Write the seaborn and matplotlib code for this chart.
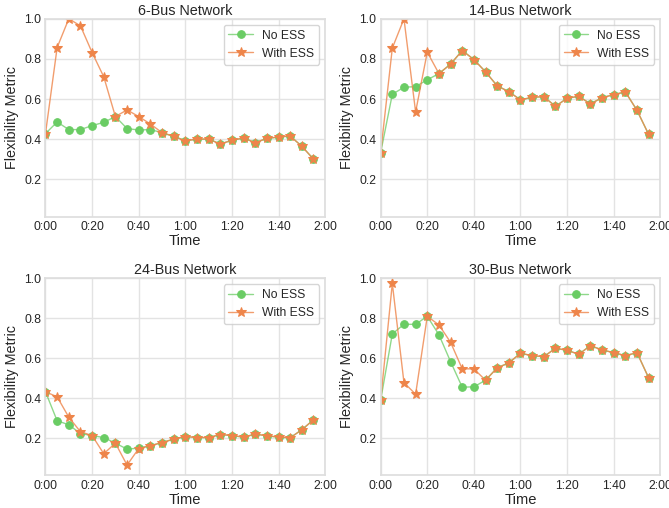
import numpy as np
import pandas as pd
import seaborn as sns
import matplotlib.pyplot as plt

minutes = list(range(0, 120, 5))
tick_minutes = [0, 20, 40, 60, 80, 100, 120]
tick_labels = ["0:00", "0:20", "0:40", "1:00", "1:20", "1:40", "2:00"]

titles = ["6-Bus Network", "14-Bus Network", "24-Bus Network", "30-Bus Network"]

bus6_no = [0.428, 0.486, 0.448, 0.448, 0.468, 0.484, 0.513, 0.453, 0.446, 0.448, 0.433, 0.414,
           0.393, 0.400, 0.401, 0.376, 0.395, 0.406, 0.383, 0.404, 0.411, 0.416, 0.365, 0.301]
bus6_ess = [0.428, 0.857, 1.000, 0.965, 0.832, 0.711, 0.513, 0.546, 0.513, 0.476, 0.433, 0.414,
            0.393, 0.400, 0.401, 0.376, 0.395, 0.406, 0.383, 0.404, 0.411, 0.416, 0.365, 0.301]

bus14_no = [0.333, 0.624, 0.659, 0.662, 0.696, 0.727, 0.774, 0.842, 0.797, 0.736, 0.666, 0.637,
            0.596, 0.609, 0.612, 0.564, 0.604, 0.614, 0.576, 0.607, 0.622, 0.636, 0.544, 0.424]
bus14_ess = [0.333, 0.854, 1.000, 0.536, 0.834, 0.727, 0.774, 0.842, 0.797, 0.736, 0.666, 0.637,
             0.596, 0.609, 0.612, 0.564, 0.604, 0.614, 0.576, 0.607, 0.622, 0.636, 0.544, 0.424]

bus24_no = [0.432, 0.287, 0.267, 0.223, 0.213, 0.203, 0.175, 0.145, 0.150, 0.162, 0.178, 0.195,
            0.208, 0.203, 0.203, 0.218, 0.213, 0.205, 0.220, 0.212, 0.205, 0.202, 0.242, 0.292]
bus24_ess = [0.432, 0.407, 0.305, 0.232, 0.213, 0.122, 0.175, 0.065, 0.148, 0.162, 0.178, 0.195,
             0.208, 0.203, 0.203, 0.218, 0.213, 0.205, 0.220, 0.212, 0.205, 0.202, 0.242, 0.292]

bus30_no = [0.390, 0.722, 0.770, 0.770, 0.810, 0.718, 0.583, 0.455, 0.457, 0.490, 0.552, 0.577,
            0.625, 0.613, 0.608, 0.650, 0.640, 0.620, 0.663, 0.642, 0.628, 0.613, 0.628, 0.502]
bus30_ess = [0.390, 0.975, 0.478, 0.420, 0.810, 0.767, 0.680, 0.547, 0.547, 0.490, 0.552, 0.577,
             0.625, 0.613, 0.608, 0.650, 0.640, 0.620, 0.663, 0.642, 0.628, 0.613, 0.628, 0.502]

no_ess = [bus6_no, bus14_no, bus24_no, bus30_no]
with_ess = [bus6_ess, bus14_ess, bus24_ess, bus30_ess]

sns.set_theme(style="whitegrid", rc={"grid.color": "#e3e3e3", "axes.edgecolor": "#dedede"})
plt.rcParams["font.family"] = ["Liberation Sans", "DejaVu Sans"]
pal = sns.color_palette("muted")
green = pal[2]
orange = pal[1]

fig, axes = plt.subplots(2, 2, figsize=(6.69, 5.08), dpi=100)
# axes placed where the reference has them (figure fractions)
pos = [(0.068, 0.573, 0.418, 0.390), (0.569, 0.573, 0.418, 0.390),
       (0.068, 0.064, 0.418, 0.388), (0.569, 0.064, 0.418, 0.388)]

for i, ax in enumerate(axes.flat):
    ax.set_position(pos[i])
    df = pd.DataFrame({"t": minutes, "no": no_ess[i], "ess": with_ess[i]})
    sns.lineplot(data=df, x="t", y="no", ax=ax, color=(*green, 0.75), marker="o",
                 markersize=5.5, markerfacecolor=green, markeredgecolor=green,
                 linewidth=1.0, label="No ESS")
    sns.lineplot(data=df, x="t", y="ess", ax=ax, color=(*orange, 0.8), marker="*",
                 markersize=7.5, markerfacecolor=orange, markeredgecolor=orange,
                 linewidth=1.0, label="With ESS")
    ax.set_xlim(0, 120)
    ax.set_ylim(0.013, 1.0)
    ax.set_xticks(tick_minutes)
    ax.set_xticklabels(tick_labels)
    ax.set_yticks([0.2, 0.4, 0.6, 0.8, 1.0])
    ax.tick_params(labelsize=8.7, length=0, pad=3)
    ax.set_title(titles[i], fontsize=10.4, pad=3)
    ax.set_xlabel("Time", fontsize=10.6, labelpad=1)
    ax.set_ylabel("Flexibility Metric", fontsize=10.4, labelpad=4)
    ax.legend(loc="upper right", fontsize=8.7)

fig.savefig("out.png", dpi=100)
